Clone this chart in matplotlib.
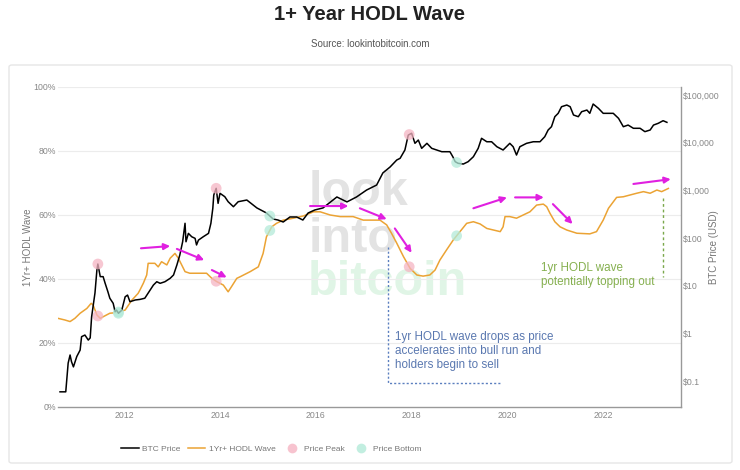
import numpy as np
import matplotlib.pyplot as plt
from matplotlib.lines import Line2D
from matplotlib.patches import FancyBboxPatch

# ---------------- data ----------------
price_years = [2010.66, 2010.78, 2010.83, 2010.87, 2010.90, 2010.94, 2011.01, 2011.08, 2011.11, 2011.18,
               2011.25, 2011.29, 2011.32, 2011.39, 2011.43, 2011.45, 2011.50, 2011.56, 2011.60, 2011.66,
               2011.70, 2011.77, 2011.81, 2011.84, 2011.88, 2011.95, 2012.02, 2012.07, 2012.12, 2012.23,
               2012.33, 2012.43, 2012.61, 2012.68, 2012.75, 2012.85, 2012.96, 2013.03, 2013.10, 2013.16,
               2013.22, 2013.27, 2013.29, 2013.34, 2013.41, 2013.48, 2013.51, 2013.55, 2013.65, 2013.76,
               2013.81, 2013.85, 2013.87, 2013.92, 2013.96, 2014.00, 2014.10, 2014.17, 2014.28, 2014.38,
               2014.56, 2014.77, 2014.97, 2015.11, 2015.21, 2015.32, 2015.46, 2015.60, 2015.73, 2015.84,
               2015.98, 2016.15, 2016.44, 2016.65, 2016.85, 2017.06, 2017.27, 2017.40, 2017.55, 2017.69,
               2017.76, 2017.86, 2017.93, 2018.00, 2018.07, 2018.14, 2018.21, 2018.32, 2018.42, 2018.52,
               2018.63, 2018.80, 2018.86, 2018.91, 2018.97, 2019.08, 2019.18, 2019.29, 2019.39, 2019.46,
               2019.57, 2019.67, 2019.78, 2019.91, 2020.05, 2020.12, 2020.19, 2020.26, 2020.40, 2020.54,
               2020.68, 2020.78, 2020.85, 2020.92, 2020.99, 2021.06, 2021.13, 2021.24, 2021.31, 2021.38,
               2021.48, 2021.55, 2021.66, 2021.72, 2021.79, 2021.90, 2022.00, 2022.11, 2022.21, 2022.32,
               2022.42, 2022.52, 2022.63, 2022.77, 2022.87, 2022.98, 2023.05, 2023.15, 2023.25, 2023.33]
price_usd = [0.060, 0.060, 0.24, 0.355, 0.257, 0.20, 0.33, 0.45, 0.86, 0.93,
             0.73, 0.81, 2.25, 7.1, 21.5, 28.7, 15.6, 15.6, 11.5, 7.5,
             5.5, 4.3, 2.87, 3.1, 2.66, 3.1, 5.9, 6.4, 4.65, 5.05,
             5.2, 5.5, 10.4, 12.2, 11.3, 12.2, 14.4, 16.9, 27.4, 44,
             84, 205, 84, 126, 107, 99, 72, 91, 107, 126,
             205, 423, 802, 1110, 537, 871, 740, 581, 456, 581,
             630, 430, 337, 252, 240, 218, 278, 278, 240, 337,
             390, 430, 730, 575, 730, 1020, 1300, 2330, 3100, 4350,
             4720, 7050, 14500, 15800, 9730, 11400, 7640, 9730, 7640, 7050,
             6490, 6490, 5100, 4010, 3710, 3580, 4010, 5100, 7640, 12400,
             10500, 10500, 8260, 7050, 9730, 8260, 5530, 8260, 9730, 10500,
             10500, 13400, 18500, 21700, 35200, 41400, 57000, 61800, 57000, 38200,
             35200, 44800, 48500, 41400, 64900, 52700, 41400, 41400, 41400, 32500,
             21700, 23500, 20100, 20100, 17100, 18500, 23500, 25600, 29000, 26800]

hodl_years = [2010.62, 2010.76, 2010.87, 2010.97, 2011.08, 2011.22, 2011.31, 2011.35, 2011.43, 2011.50,
              2011.56, 2011.70, 2011.84, 2012.02, 2012.16, 2012.29, 2012.33, 2012.40, 2012.47, 2012.50,
              2012.64, 2012.71, 2012.78, 2012.89, 2012.96, 2013.06, 2013.13, 2013.27, 2013.37, 2013.55,
              2013.72, 2013.83, 2013.93, 2014.07, 2014.17, 2014.24, 2014.35, 2014.42, 2014.63, 2014.80,
              2014.90, 2014.97, 2015.08, 2015.18, 2015.32, 2015.53, 2015.74, 2015.95, 2016.09, 2016.30,
              2016.51, 2016.78, 2016.99, 2017.13, 2017.34, 2017.48, 2017.58, 2017.69, 2017.83, 2017.97,
              2018.11, 2018.24, 2018.38, 2018.49, 2018.59, 2018.73, 2018.87, 2019.01, 2019.15, 2019.29,
              2019.43, 2019.57, 2019.71, 2019.85, 2019.91, 2019.95, 2020.05, 2020.19, 2020.33, 2020.47,
              2020.61, 2020.75, 2020.82, 2020.89, 2020.99, 2021.10, 2021.24, 2021.45, 2021.72, 2021.86,
              2022.00, 2022.11, 2022.28, 2022.42, 2022.56, 2022.70, 2022.84, 2022.98, 2023.12, 2023.22,
              2023.36]
hodl_pct = [27.7, 27.2, 26.7, 27.7, 29.3, 30.8, 32.4, 31.9, 28.75, 27.7,
            28.2, 29.3, 29.5, 30.3, 33.4, 35.5, 36.6, 38.7, 41.25, 44.9,
            44.9, 43.8, 45.4, 44.4, 46.5, 48.0, 46.5, 42.3, 41.8, 41.8,
            41.8, 40.2, 39.2, 38.1, 36.0, 37.6, 40.2, 40.7, 42.3, 43.8,
            48.0, 53.2, 56.3, 57.4, 58.4, 59.0, 59.7, 61.0, 61.0, 60.0,
            59.5, 59.5, 58.4, 58.4, 58.4, 56.9, 54.3, 51.2, 47.0, 43.3,
            41.25, 40.9, 41.25, 42.8, 45.9, 49.1, 52.2, 54.8, 57.4, 57.9,
            57.2, 55.8, 55.3, 54.8, 56.3, 59.5, 59.5, 59.0, 60.0, 61.0,
            63.1, 63.4, 62.6, 60.5, 57.9, 56.3, 55.3, 54.3, 54.1, 54.8,
            58.4, 62.1, 65.5, 65.7, 66.25, 66.8, 67.3, 66.8, 67.8, 67.3,
            68.3]

peak_years = [2011.45, 2013.92, 2017.95]
bottom_years = [2011.88, 2015.04, 2018.94]

year_ticks = [2012, 2014, 2016, 2018, 2020, 2022]
pct_ticks = [0, 20, 40, 60, 80, 100]
price_ticks = [0.1, 1, 10, 100, 1000, 10000, 100000]
price_tick_labels = ["$0.1", "$1", "$10", "$100", "$1,000", "$10,000", "$100,000"]

# arrows in (year, %) : start -> end
arrows = [((2012.35, 49.6), (2012.96, 50.3)),
          ((2013.10, 49.4), (2013.67, 45.9)),
          ((2013.83, 42.8), (2014.14, 40.5)),
          ((2015.88, 62.8), (2016.68, 62.8)),
          ((2016.92, 62.1), (2017.48, 58.7)),
          ((2017.65, 55.8), (2018.00, 48.2)),
          ((2019.29, 62.1), (2019.99, 65.5)),
          ((2020.16, 65.5), (2020.76, 65.5)),
          ((2020.95, 63.4), (2021.36, 57.2)),
          ((2022.63, 69.7), (2023.41, 71.2))]

# ---------------- figure ----------------
W, H = 740, 470
plt.rcParams['font.family'] = ['Liberation Sans', 'DejaVu Sans']
fig = plt.figure(figsize=(W / 100, H / 100), dpi=100)

def fx(px):
    return px / W

def fy(py):
    return 1 - py / H

# outer card
fig.patches.append(FancyBboxPatch((fx(9), fy(463)), fx(732) - fx(9), fy(65) - fy(463),
                                  boxstyle="round,pad=0,rounding_size=0.004",
                                  transform=fig.transFigure, facecolor='none',
                                  edgecolor='#e6e6e6', linewidth=1.0, zorder=-1))

fig.text(0.5, fy(15), "1+ Year HODL Wave", ha='center', va='center',
         fontsize=14.5, fontweight='bold', color='#222222')
fig.text(0.5, fy(44), "Source: lookintobitcoin.com", ha='center', va='center',
         fontsize=7, color='#555555')

ax = fig.add_axes([fx(58), fy(407), fx(681) - fx(58), fy(87) - fy(407)])
ax.set_facecolor('none')
ax2 = ax.twinx()
ax2.set_facecolor('none')

xmin, xmax = 2010.618, 2023.624
ax.set_xlim(xmin, xmax)
ax.set_ylim(0, 100)
ax2.set_yscale('log')
ax2.set_ylim(10 ** -1.54, 10 ** 5.169)

# watermark
ax.text(2015.84, 63.1, "look", fontsize=35, fontweight='bold', color='#e3e3e3',
        ha='left', va='baseline', zorder=0)
ax.text(2015.84, 48.4, "into", fontsize=35, fontweight='bold', color='#e3e3e3',
        ha='left', va='baseline', zorder=0)
ax.text(2015.84, 35.0, "bitcoin", fontsize=35, fontweight='bold', color='#e0f5e6',
        ha='left', va='baseline', zorder=0)

# grid
for t in pct_ticks[1:]:
    ax.axhline(t, color='#ececec', lw=0.8, zorder=0.5)

ax.plot(hodl_years, hodl_pct, color='#eba334', lw=1.1, zorder=2)
ax2.plot(price_years, price_usd, color='black', lw=1.1, zorder=3)

# peaks / bottoms
hp = np.interp(peak_years, hodl_years, hodl_pct)
pp = 10 ** np.interp(peak_years, price_years, np.log10(price_usd))
hb = np.interp(bottom_years, hodl_years, hodl_pct)
pb = 10 ** np.interp(bottom_years, price_years, np.log10(price_usd))
ax.scatter(peak_years, hp, s=60, color='#f5b5c3', alpha=0.75, edgecolors='none', zorder=3)
ax.scatter(bottom_years, hb, s=60, color='#b3ead9', alpha=0.75, edgecolors='none', zorder=3)
ax2.scatter(peak_years, pp, s=60, color='#f5b5c3', alpha=0.75, edgecolors='none', zorder=4)
ax2.scatter(bottom_years, pb, s=60, color='#b3ead9', alpha=0.75, edgecolors='none', zorder=4)

# magenta arrows
for (s, e) in arrows:
    ax2.annotate("", xy=e, xytext=s, xycoords=ax.transData, textcoords=ax.transData,
                 arrowprops=dict(arrowstyle='-|>', color='#e020e0', lw=1.5,
                                 mutation_scale=9, shrinkA=0, shrinkB=0), zorder=6)

# blue annotation
ax2.plot([2017.51, 2017.51, 2019.87], [50.1, 7.6, 7.6], transform=ax.transData,
         color='#5b7fbf', lw=1.0, ls=(0, (1.5, 1.5)), zorder=5)
ax2.text(2017.65, 23.6, "1yr HODL wave drops as price\naccelerates into bull run and\nholders begin to sell",
         transform=ax.transData, fontsize=8.4, color='#5a78b0', ha='left', va='top',
         linespacing=1.22, zorder=6)

# green annotation
ax2.plot([2023.24, 2023.24], [65.3, 40.6], transform=ax.transData,
         color='#7aa84a', lw=1.0, ls=(0, (2, 2)), zorder=5)
ax2.text(2020.70, 41.3, "1yr HODL wave\npotentially topping out", transform=ax.transData,
         fontsize=8.4, color='#86b050', ha='left', va='center', linespacing=1.22, zorder=6)

# axes styling
ax.set_yticks(pct_ticks)
ax.set_yticklabels([f"{t}%" for t in pct_ticks])
ax.set_xticks(year_ticks)
ax.set_xticklabels([str(y) for y in year_ticks])
ax.tick_params(axis='y', length=0, labelsize=6.3, labelcolor='#888888', pad=1.5)
ax.tick_params(axis='x', length=0, labelsize=6.3, labelcolor='#888888', pad=3)
ax2.set_yticks(price_ticks)
ax2.set_yticklabels(price_tick_labels)
ax2.minorticks_off()
ax2.tick_params(axis='y', length=0, labelsize=6.3, labelcolor='#888888', pad=1.5)

for a in (ax, ax2):
    for side in ('top', 'left'):
        a.spines[side].set_visible(False)
ax.spines['right'].set_visible(False)
ax2.spines['bottom'].set_visible(False)
ax.spines['bottom'].set_color('#999999')
ax.spines['bottom'].set_linewidth(1.0)
ax2.spines['right'].set_color('#999999')
ax2.spines['right'].set_linewidth(1.0)

ax.set_ylabel("1Yr+ HODL Wave", fontsize=7, color='#777777')
ax.yaxis.set_label_coords((33 - 58) / 623, 0.5)
ax2.set_ylabel("BTC Price (USD)", fontsize=7, color='#777777', rotation=90)
ax2.yaxis.set_label_coords((709 - 58) / 623, 0.5)

handles = [Line2D([], [], color='black', lw=1.1),
           Line2D([], [], color='#eba334', lw=1.1),
           Line2D([], [], ls='none', marker='o', markersize=7, markerfacecolor='#f5b5c3',
                  markeredgecolor='none', alpha=0.8),
           Line2D([], [], ls='none', marker='o', markersize=7, markerfacecolor='#b3ead9',
                  markeredgecolor='none', alpha=0.8)]
labels = ["BTC Price", "1Yr+ HODL Wave", "Price Peak", "Price Bottom"]
leg = fig.legend(handles, labels, loc='center left', bbox_to_anchor=(fx(121), fy(449)),
                 ncol=4, frameon=False, fontsize=6, handlelength=2.1, columnspacing=0.85,
                 handletextpad=0.45, borderpad=0, borderaxespad=0)
for t in leg.get_texts():
    t.set_color('#777777')

fig.savefig("out.png", dpi=100)
